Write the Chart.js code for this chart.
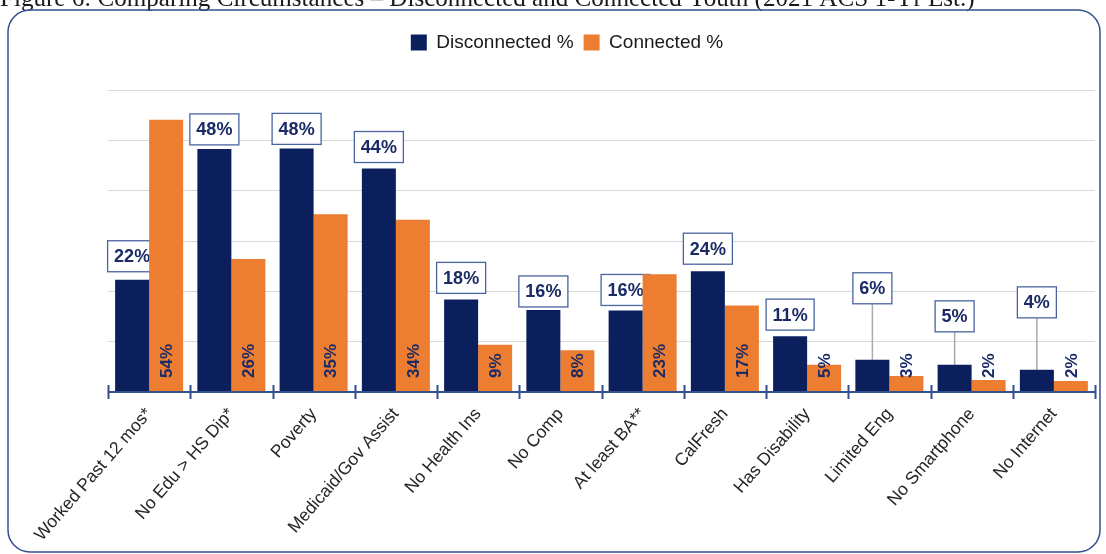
<!DOCTYPE html>
<html><head><meta charset="utf-8">
<script src="https://cdn.jsdelivr.net/npm/chart.js@4.4.1/dist/chart.umd.min.js"></script>
<style>html,body{margin:0;padding:0;background:#fff;overflow:hidden;}</style>
</head><body>
<canvas id="c" width="1106" height="554"></canvas>
<script>
// ---- data ----
const categories = ['Worked Past 12 mos*', 'No Edu > HS Dip*', 'Poverty', 'Medicaid/Gov Assist', 'No Health Ins', 'No Comp', 'At least BA**', 'CalFresh', 'Has Disability', 'Limited Eng', 'No Smartphone', 'No Internet'];
const disconnected = [22.3, 48.3, 48.4, 44.4, 18.4, 16.3, 16.2, 24.0, 11.1, 6.4, 5.4, 4.4];
const connected = [54.1, 26.4, 35.3, 34.2, 9.4, 8.3, 23.4, 17.2, 5.4, 3.2, 2.4, 2.2];
const seriesNames = ['Disconnected %', 'Connected %'];
const yTicks = [0, 10, 20, 30, 40, 50, 60];
const captionText = 'Figure 6: Comparing Circumstances \u2013 Disconnected and Connected Youth (2021 ACS 1-Yr Est.)';

// ---- styles ----
const NAVY = '#0b1f5d';
const ORANGE = '#ed7d31';
const LABEL_NAVY = '#1b2b66';
const AXIS_BLUE = '#34508f';
const FONT = '"Liberation Sans", Arial, sans-serif';
// pixel gap between bar top and the bottom of its callout box (disconnected labels)
const calloutGap = [8, 4, 4, 6, 6, 3, 5, 7, 6, 56, 33, 52];

const fmt = v => Math.round(v) + '%';

const framePlugin = {
  id: 'frame',
  beforeDraw(chart) {
    const ctx = chart.ctx;
    ctx.save();
    ctx.fillStyle = '#fff';
    ctx.fillRect(0, 0, chart.width, chart.height);
    ctx.font = '20px "Liberation Serif", "Times New Roman", serif';
    const w = ctx.measureText(captionText).width;
    const size = 20 * 975 / w;
    ctx.font = size + 'px "Liberation Serif", "Times New Roman", serif';
    ctx.fillStyle = '#1a1a1a';
    ctx.textBaseline = 'alphabetic';
    ctx.textAlign = 'left';
    ctx.fillText(captionText, 0, 6);
    ctx.strokeStyle = AXIS_BLUE;
    ctx.lineWidth = 1.5;
    ctx.beginPath();
    ctx.roundRect(8, 10, 1092, 542, 22);
    ctx.stroke();
    ctx.restore();
  }
};

const calloutPlugin = {
  id: 'callouts',
  beforeDatasetsDraw(chart) {
    const ctx = chart.ctx;
    const meta = chart.getDatasetMeta(0);
    ctx.save();
    ctx.font = 'bold 18px ' + FONT;
    meta.data.forEach((bar, i) => {
      const txt = fmt(disconnected[i]);
      const tw = ctx.measureText(txt).width;
      const bw = tw + 13, bh = 31;
      const bottom = bar.y - calloutGap[i];
      const top = bottom - bh;
      if (calloutGap[i] > 12) {
        ctx.strokeStyle = '#a9a9a9';
        ctx.lineWidth = 1.5;
        ctx.beginPath();
        ctx.moveTo(bar.x, bottom);
        ctx.lineTo(bar.x, bar.y);
        ctx.stroke();
      }
      ctx.fillStyle = '#fff';
      ctx.fillRect(bar.x - bw / 2, top, bw, bh);
      ctx.strokeStyle = '#4a64a0';
      ctx.lineWidth = 1.3;
      ctx.strokeRect(bar.x - bw / 2, top, bw, bh);
      ctx.fillStyle = LABEL_NAVY;
      ctx.textAlign = 'center';
      ctx.textBaseline = 'middle';
      ctx.fillText(txt, bar.x, top + bh / 2 + 1);
    });
    ctx.restore();
  },
  afterDatasetsDraw(chart) {
    const ctx = chart.ctx;
    const meta = chart.getDatasetMeta(1);
    const base = chart.scales.y.getPixelForValue(0);
    ctx.save();
    ctx.font = 'bold 17px ' + FONT;
    ctx.fillStyle = LABEL_NAVY;
    meta.data.forEach((bar, i) => {
      ctx.save();
      ctx.translate(bar.x, base - 14);
      ctx.rotate(-Math.PI / 2);
      ctx.textAlign = 'left';
      ctx.textBaseline = 'middle';
      ctx.fillText(fmt(connected[i]), 0, 1);
      ctx.restore();
    });
    const area = chart.chartArea;
    ctx.strokeStyle = AXIS_BLUE;
    ctx.lineWidth = 2;
    ctx.beginPath();
    ctx.moveTo(area.left, base);
    ctx.lineTo(area.right, base);
    const step = (area.right - area.left) / categories.length;
    for (let k = 0; k <= categories.length; k++) {
      const x = Math.round(area.left + k * step) + 0.5;
      ctx.moveTo(x, base - 7);
      ctx.lineTo(x, base + 7);
    }
    ctx.stroke();
    ctx.restore();
  }
};

const legendFitPlugin = {
  id: 'legendFit',
  beforeInit(chart) {
    const orig = chart.legend.fit;
    chart.legend.fit = function () { orig.call(this); this.height = 67; };
  }
};

new Chart(document.getElementById('c'), {
  type: 'bar',
  data: {
    labels: categories,
    datasets: [
      { label: seriesNames[0], data: disconnected, backgroundColor: NAVY, borderWidth: 0 },
      { label: seriesNames[1], data: connected, backgroundColor: ORANGE, borderWidth: 0 }
    ]
  },
  options: {
    responsive: false,
    animation: false,
    devicePixelRatio: 1,
    layout: { padding: { top: 23, left: 39, right: 11, bottom: 0 } },
    datasets: { bar: { categoryPercentage: 0.827, barPercentage: 1.0 } },
    plugins: {
      legend: {
        display: true,
        position: 'top',
        labels: {
          boxWidth: 16, boxHeight: 16, padding: 10,
          color: '#1a1a1a',
          font: { family: FONT, size: 19 }
        }
      },
      tooltip: { enabled: false },
      title: { display: false }
    },
    scales: {
      x: {
        grid: { display: false, drawTicks: false },
        border: { display: false },
        ticks: {
          color: '#262626',
          font: { family: FONT, size: 17.5 },
          minRotation: 49, maxRotation: 49,
          padding: 12,
          autoSkip: false
        },
        afterFit(axis) { axis.height = 162; }
      },
      y: {
        min: 0, max: 60,
        afterBuildTicks(axis) { axis.ticks = yTicks.map(v => ({ value: v })); },
        grid: { color: '#d9d9d9', lineWidth: 1, drawTicks: false },
        border: { display: false },
        ticks: { display: false },
        afterFit(axis) { axis.width = 69; }
      }
    }
  },
  plugins: [framePlugin, calloutPlugin, legendFitPlugin]
});
</script>
</body></html>
